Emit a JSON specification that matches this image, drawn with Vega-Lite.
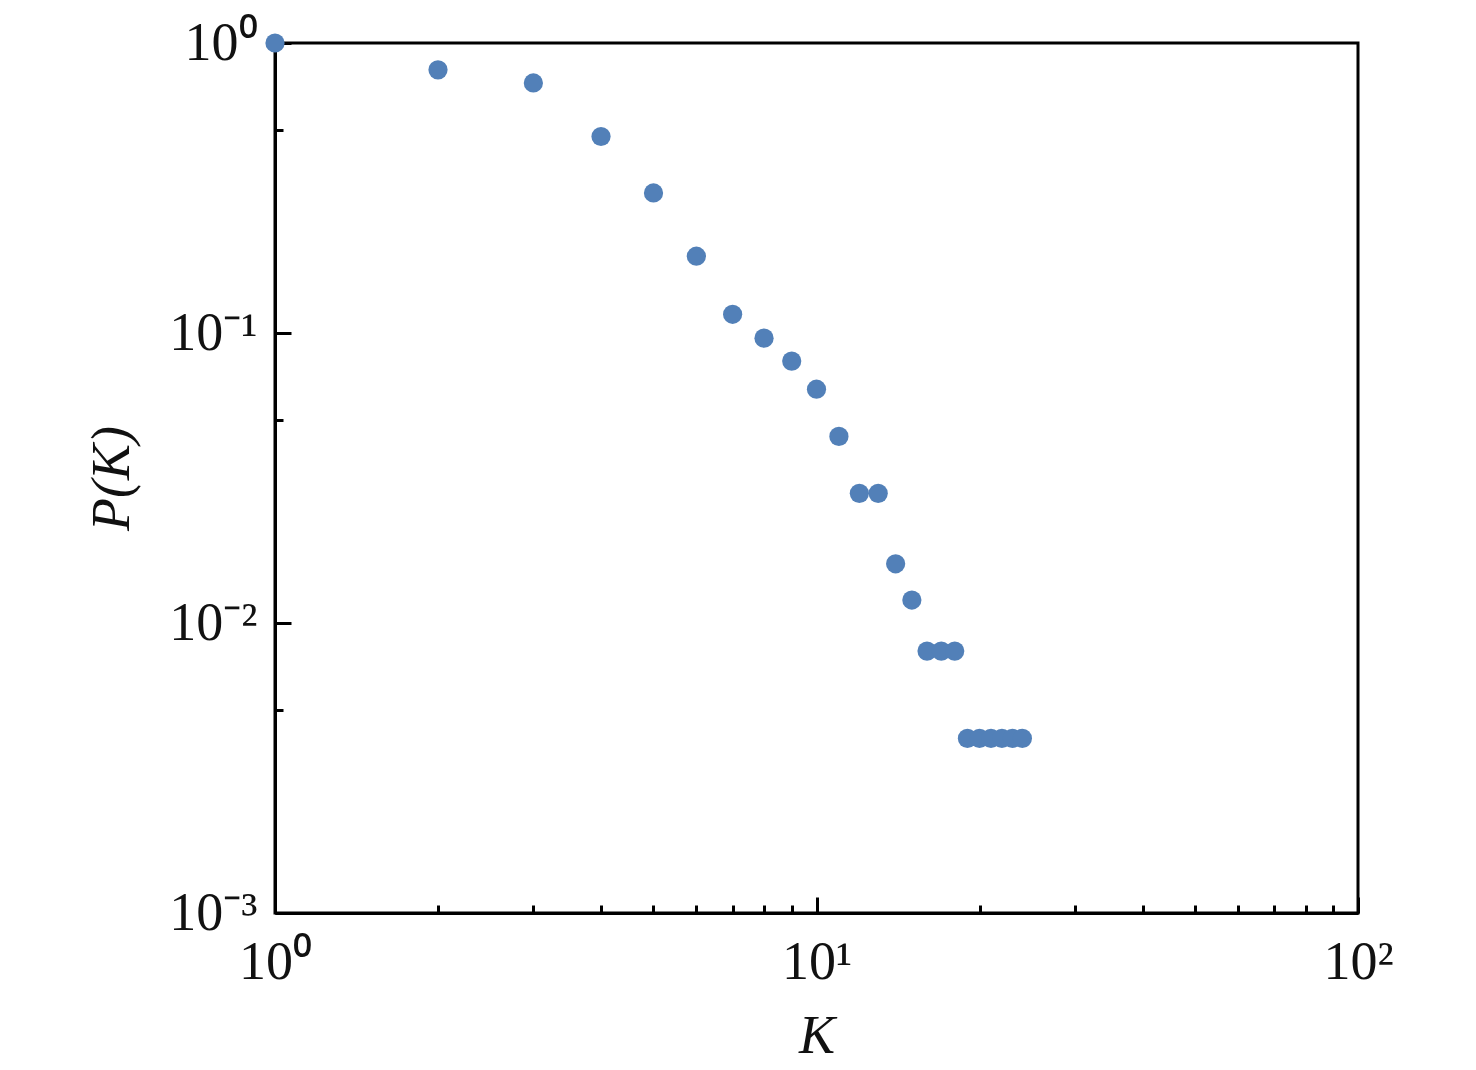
{
  "$schema": "https://vega.github.io/schema/vega-lite/v6.json",
  "autosize": "none",
  "width": 1083,
  "height": 870,
  "padding": {"left": 275, "top": 43, "right": 118, "bottom": 157},
  "background": "white",
  "config": {
    "view": {"stroke": "black", "strokeWidth": 3},
    "font": "Times New Roman, Liberation Serif, serif",
    "axis": {
      "domainColor": "black",
      "domainWidth": 3,
      "tickColor": "black",
      "tickWidth": 3,
      "grid": false,
      "labelFont": "Times New Roman, Liberation Serif, serif",
      "labelFontSize": 54,
      "labelColor": "#111111",
      "titleFont": "Times New Roman, Liberation Serif, serif",
      "titleFontSize": 54,
      "titleFontStyle": "italic",
      "titleFontWeight": "normal",
      "titleColor": "#111111"
    }
  },
  "data": {
    "values": [
      {"K": 1, "P": 1.0},
      {"K": 2, "P": 0.808},
      {"K": 3, "P": 0.728},
      {"K": 4, "P": 0.476},
      {"K": 5, "P": 0.304},
      {"K": 6, "P": 0.184},
      {"K": 7, "P": 0.116},
      {"K": 8, "P": 0.096},
      {"K": 9, "P": 0.08},
      {"K": 10, "P": 0.064},
      {"K": 11, "P": 0.044},
      {"K": 12, "P": 0.028},
      {"K": 13, "P": 0.028},
      {"K": 14, "P": 0.016},
      {"K": 15, "P": 0.012},
      {"K": 16, "P": 0.008},
      {"K": 17, "P": 0.008},
      {"K": 18, "P": 0.008},
      {"K": 19, "P": 0.004},
      {"K": 20, "P": 0.004},
      {"K": 21, "P": 0.004},
      {"K": 22, "P": 0.004},
      {"K": 23, "P": 0.004},
      {"K": 24, "P": 0.004}
    ]
  },
  "mark": {"type": "circle", "size": 370, "opacity": 1, "color": "#5280B8", "clip": false},
  "encoding": {
    "x": {
      "field": "K",
      "type": "quantitative",
      "scale": {"type": "log", "domain": [1, 100], "nice": false},
      "axis": {
        "title": "K",
        "values": [1, 2, 3, 4, 5, 6, 7, 8, 9, 10, 20, 30, 40, 50, 60, 70, 80, 90, 100],
        "labelExpr": "datum.value == 1 ? '10⁰' : datum.value == 10 ? '10¹' : datum.value == 100 ? '10²' : ''",
        "tickSize": {"condition": {"test": "indexof([1, 10, 100], datum.value) >= 0", "value": -16}, "value": -8},
        "labelPadding": 38,
        "labelFlush": false,
        "labelOverlap": false,
        "titlePadding": 12
      }
    },
    "y": {
      "field": "P",
      "type": "quantitative",
      "scale": {"type": "log", "domain": [0.001, 1], "nice": false},
      "axis": {
        "title": "P(K)",
        "values": [0.001, 0.005, 0.01, 0.05, 0.1, 0.5, 1],
        "labelExpr": "datum.value == 1 ? '10⁰' : datum.value == 0.1 ? '10⁻¹' : datum.value == 0.01 ? '10⁻²' : datum.value == 0.001 ? '10⁻³' : ''",
        "tickSize": {"condition": {"test": "indexof([0.001, 0.01, 0.1, 1], datum.value) >= 0", "value": -16}, "value": -8},
        "labelPadding": 34,
        "labelFlush": false,
        "labelOverlap": false,
        "titlePadding": 29
      }
    }
  }
}
